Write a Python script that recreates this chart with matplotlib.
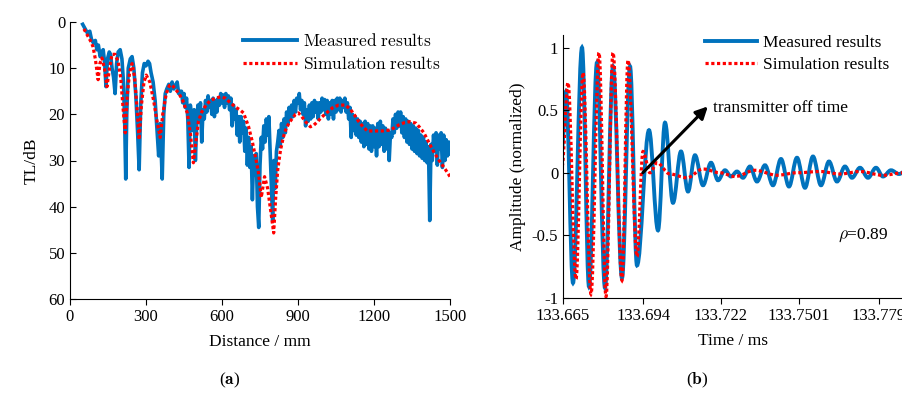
import matplotlib
matplotlib.use('Agg')
import matplotlib.pyplot as plt
from matplotlib.path import Path
from matplotlib.patches import PathPatch
from matplotlib.lines import Line2D

plt.rcParams['font.family'] = ['Liberation Serif', 'DejaVu Serif']
plt.rcParams['mathtext.fontset'] = 'cm'

BLUE = '#0072BD'
RED = '#FF0000'

# (a) transmission loss vs distance
# near field, read point by point
dist_near = [50, 60, 70, 78, 85, 92, 100, 106, 112, 119, 125, 131, 137, 142, 148, 155, 160, 166, 172, 178,
             184, 190, 198, 205, 211, 216, 220, 224, 230, 238, 245, 252, 260, 267, 273, 279, 286, 293, 300, 308,
             314, 320, 328, 336, 344, 350, 356, 364, 370, 376, 382, 390, 396, 403, 410, 416, 423, 429, 435]
tl_near = [0.5, 1.5, 2.5, 2.0, 3.8, 4.5, 4.0, 6.0, 5.0, 7.5, 6.5, 6.0, 9.0, 14.0, 8.0, 6.5, 7.0, 10.0, 12.0, 15.5,
           9.0, 6.5, 6.0, 8.0, 13.0, 22.0, 34.0, 20.0, 10.0, 8.0, 7.5, 10.0, 16.0, 24.0, 32.0, 18.0, 11.0, 9.0, 9.5, 8.5,
           9.0, 11.0, 13.0, 17.0, 24.0, 29.0, 22.0, 34.0, 20.0, 15.5, 14.5, 13.5, 15.0, 13.0, 14.5, 13.8, 13.0, 15.5, 15.0]
# far field, sampled every 5 mm
dist_far = list(range(440, 1505, 5))
tl_far = [15.0, 17.5, 15.5, 18.5, 16.5, 21.0, 31.5, 18.0, 20.5, 23.5,
          19.0, 30.0, 22.0, 18.0, 21.5, 17.5, 26.0, 19.0, 21.0, 17.0,
          19.5, 16.0, 18.5, 17.0, 20.0, 16.5, 20.5, 17.0, 19.5, 16.5,
          18.0, 15.5, 17.5, 15.8, 18.5, 15.5, 17.5, 16.0, 19.0, 16.5,
          22.5, 18.0, 21.0, 19.0, 24.5, 20.5, 26.0, 20.5, 24.0, 21.5,
          28.0, 23.0, 31.0, 25.0, 31.5, 27.0, 38.5, 29.0, 33.0, 28.5,
          40.0, 44.5, 31.0, 25.0, 27.5, 22.5, 26.0, 21.0, 24.5, 20.5,
          28.0, 35.0, 43.0, 30.0, 36.0, 28.0, 26.0, 23.5, 27.0, 22.0,
          25.0, 21.0, 24.0, 19.5, 22.0, 18.5, 21.0, 18.0, 20.5, 17.0,
          19.5, 16.5, 17.5, 15.5, 19.0, 17.0, 20.0, 17.5, 22.5, 19.0,
          21.5, 18.0, 21.0, 17.5, 20.5, 17.0, 19.5, 17.5, 21.0, 17.5,
          19.5, 16.5, 19.0, 16.8, 20.0, 17.0, 21.0, 17.5, 20.0, 17.0,
          21.0, 17.0, 19.5, 16.5, 19.0, 16.5, 19.5, 17.0, 18.5, 16.5,
          19.5, 17.5, 21.0, 18.5, 25.0, 20.0, 23.5, 20.5, 24.5, 21.0,
          25.0, 21.5, 26.0, 22.0, 27.0, 21.5, 26.5, 22.0, 27.5, 22.5,
          28.0, 22.5, 27.0, 23.0, 29.0, 22.0, 27.0, 21.5, 26.5, 22.5,
          28.0, 23.0, 27.5, 23.5, 30.0, 24.0, 25.0, 21.0, 24.0, 20.0,
          23.0, 19.5, 22.5, 19.5, 24.0, 20.5, 25.0, 21.0, 26.0, 21.5,
          26.5, 22.0, 27.5, 22.5, 28.0, 23.0, 28.5, 23.5, 29.0, 24.5,
          29.5, 25.0, 30.0, 26.0, 30.5, 27.0, 43.0, 26.5, 30.0, 24.5,
          28.0, 24.0, 31.0, 24.5, 27.5, 24.0, 31.5, 24.5, 30.0, 25.5,
          29.0, 26.0, 28.5]
dist_meas = dist_near + dist_far
tl_meas = tl_near + tl_far

dist_sim = [55, 70, 85, 91, 100, 111, 118, 126, 136, 146, 156, 166, 178, 190, 200, 210, 218, 226, 235, 245,
            255, 265, 273, 282, 292, 301, 315, 330, 345, 356, 366, 380, 392, 403, 415, 430, 445, 463, 475, 487,
            497, 507, 520, 537, 554, 575, 594, 613, 633, 655, 670, 685, 705, 720, 735, 744, 755, 768, 780, 795,
            804, 812, 820, 831, 842, 851, 865, 879, 890, 902, 915, 930, 949, 963, 977, 990, 1010, 1036, 1060, 1088,
            1108, 1125, 1140, 1158, 1174, 1200, 1233, 1265, 1298, 1320, 1340, 1365, 1380, 1397, 1411, 1425, 1440,
            1457, 1475, 1491, 1500]
tl_sim = [1.5, 3.0, 4.5, 5.4, 8.0, 12.5, 9.0, 7.8, 10.0, 14.0, 10.0, 7.0, 7.0, 8.6, 12.0, 19.0, 24.0, 16.0, 11.0, 9.0,
          12.0, 19.0, 25.5, 18.0, 13.0, 11.5, 13.0, 17.0, 22.0, 25.0, 20.0, 15.5, 13.8, 13.6, 14.5, 15.5, 17.0, 19.7, 24.0, 30.5,
          26.0, 21.5, 19.5, 18.0, 17.0, 16.5, 16.2, 16.5, 17.5, 18.5, 19.0, 19.7, 22.7, 26.0, 30.0, 32.7, 38.0, 33.5, 36.0, 42.0,
          45.7, 38.0, 32.0, 27.7, 25.0, 23.4, 21.8, 20.8, 20.0, 19.7, 20.5, 21.6, 22.7, 22.3, 21.6, 20.8, 19.8, 18.6, 18.0, 18.0,
          19.0, 20.3, 21.6, 22.8, 23.6, 23.6, 23.6, 23.4, 22.3, 21.8, 21.6, 21.9, 22.8, 24.0, 25.5, 27.0, 28.5,
          30.0, 31.4, 32.7, 33.5]

# (b) turning points of the received waveforms
t_meas = [133.66464, 133.66608, 133.66861, 133.67186, 133.67439, 133.67727, 133.68016, 133.68305, 133.68630,
          133.68919, 133.69171, 133.69605, 133.69930, 133.70182, 133.70471, 133.70760, 133.71013, 133.71265,
          133.71554, 133.71843, 133.72096, 133.72349, 133.72565, 133.72781, 133.72998, 133.73251, 133.73503,
          133.73792, 133.74081, 133.74369, 133.74658, 133.74947, 133.75236, 133.75524, 133.75813, 133.76102,
          133.76391, 133.76680, 133.76933, 133.77222, 133.77511, 133.77799, 133.78052, 133.78341, 133.78630,
          133.78847]
amp_meas = [0.20, 0.65, -0.88, 1.00, -0.91, 0.88, -0.92, 0.85, -0.84,
            0.85, -0.74, 0.34, -0.46, 0.40, -0.24, 0.17, -0.15, 0.14,
            -0.10, 0.08, -0.06, 0.02, -0.03, 0.01, -0.04, 0.05, -0.07,
            0.06, -0.10, 0.11, -0.11, 0.12, -0.12, 0.13, -0.10, 0.09,
            -0.07, 0.05, -0.04, 0.04, -0.04, 0.04, -0.03, 0.02, -0.01,
            0.01]

t_sim = [133.66464, 133.66680, 133.66969, 133.67222, 133.67511, 133.67800, 133.68052, 133.68305, 133.68630,
         133.68847, 133.69171, 133.69388, 133.69641, 133.69893, 133.70363, 133.70976, 133.71554, 133.72167,
         133.72709, 133.73431, 133.74225, 133.74947, 133.75778, 133.76500, 133.77222, 133.78052, 133.78774]
amp_sim = [0.05, 0.72, -0.85, 0.80, -0.97, 0.96, -0.99, 0.96, -0.86,
           0.90, -0.67, 0.17, 0.00, 0.08, -0.01, -0.04, 0.03, 0.00,
           -0.03, 0.02, -0.02, 0.00, 0.01, -0.01, 0.01, -0.02, 0.00]

time_ticks = [133.665, 133.694, 133.722, 133.7501, 133.779]
time_labels = ['133.665', '133.694', '133.722', '133.7501', '133.779']
amp_ticks = [-1, -0.5, 0, 0.5, 1]
amp_labels = ['-1', '-0.5', '0', '0.5', '1']

DOTS = (0, (1, 0.8))


def smooth_path(x, y):
    # cubic segments with flat tangents at each turning point
    verts = [(x[0], y[0])]
    codes = [Path.MOVETO]
    for i in range(len(x) - 1):
        dx = x[i + 1] - x[i]
        verts += [(x[i] + 0.36 * dx, y[i]), (x[i + 1] - 0.36 * dx, y[i + 1]), (x[i + 1], y[i + 1])]
        codes += [Path.CURVE4] * 3
    return Path(verts, codes)


fig = plt.figure(figsize=(9.03, 3.93), dpi=100)

# ---- (a)
ax1 = fig.add_axes([70 / 903, 1 - 299 / 393, 380 / 903, 277 / 393])
ax1.plot(dist_meas, tl_meas, color=BLUE, lw=2.6, solid_joinstyle='round')
ax1.plot(dist_sim, tl_sim, color=RED, lw=2.3, linestyle=DOTS)
ax1.set_xlim(0, 1500)
ax1.set_ylim(60, 0)
ax1.set_xticks([0, 300, 600, 900, 1200, 1500])
ax1.set_yticks([0, 10, 20, 30, 40, 50, 60])
ax1.spines['top'].set_visible(False)
ax1.spines['right'].set_visible(False)
ax1.tick_params(axis='y', direction='in', length=4, labelsize=12)
ax1.tick_params(axis='x', direction='out', length=4, labelsize=12)
ax1.set_ylabel('TL/dB', fontsize=12.5, labelpad=6)
ax1.set_xlabel('Distance / mm', fontsize=12.5, labelpad=6)
ax1.legend([Line2D([], [], color=BLUE, lw=2.8),
            Line2D([], [], color=RED, lw=2.3, linestyle=DOTS)],
           [r'$\mathrm{Measured\ results}$', r'$\mathrm{Simulation\ results}$'],
           loc='upper left', bbox_to_anchor=(243 / 903, 1 - 33 / 393), bbox_transform=fig.transFigure,
           frameon=False, fontsize=12.5, handlelength=3.1, handletextpad=0.35, labelspacing=0.35,
           borderpad=0, borderaxespad=0)

# ---- (b)
ax2 = fig.add_axes([563 / 903, 1 - 298 / 393, 340 / 903, 263 / 393])
ax2.add_patch(PathPatch(smooth_path(t_meas, amp_meas), fill=False, edgecolor=BLUE, lw=2.8))
ax2.add_patch(PathPatch(smooth_path(t_sim, amp_sim), fill=False, edgecolor=RED, lw=2.3,
                        linestyle=DOTS, capstyle='butt'))
ax2.set_xlim(133.665, 133.78774)
ax2.set_ylim(-1, 1.1)
ax2.set_xticks(time_ticks)
ax2.set_xticklabels(time_labels)
ax2.set_yticks(amp_ticks)
ax2.set_yticklabels(amp_labels)
ax2.spines['top'].set_visible(False)
ax2.spines['right'].set_visible(False)
ax2.tick_params(axis='y', direction='in', length=4, labelsize=12)
ax2.tick_params(axis='x', direction='out', length=4, labelsize=12)
ax2.set_ylabel('Amplitude (normalized)', fontsize=12.5, labelpad=4)
ax2.set_xlabel('Time / ms', fontsize=12.5, labelpad=6)
ax2.legend([Line2D([], [], color=BLUE, lw=2.8),
            Line2D([], [], color=RED, lw=2.3, linestyle=DOTS)],
           ['Measured results', 'Simulation results'],
           loc='upper left', bbox_to_anchor=(705 / 903, 1 - 35 / 393), bbox_transform=fig.transFigure,
           frameon=False, fontsize=12.5, handlelength=3.0, handletextpad=0.35, labelspacing=0.35,
           borderpad=0, borderaxespad=0)

ax2.annotate('', xy=(133.7173, 0.53), xytext=(133.6938, 0.0),
             arrowprops=dict(arrowstyle='-|>', lw=2.2, color='black', mutation_scale=18, shrinkA=0, shrinkB=0))
ax2.text(133.7192, 0.52, 'transmitter off time', fontsize=12.5, ha='left', va='center')
ax2.text(133.7643, -0.5, r'$\rho$=0.89', fontsize=12.5, ha='left', va='center')

fig.text(230 / 903, 1 - 380 / 393, r'($\mathbf{a}$)', fontsize=12.5, ha='center', va='center')
fig.text(697 / 903, 1 - 380 / 393, r'($\mathbf{b}$)', fontsize=12.5, ha='center', va='center')

fig.savefig('out.png', dpi=100)
